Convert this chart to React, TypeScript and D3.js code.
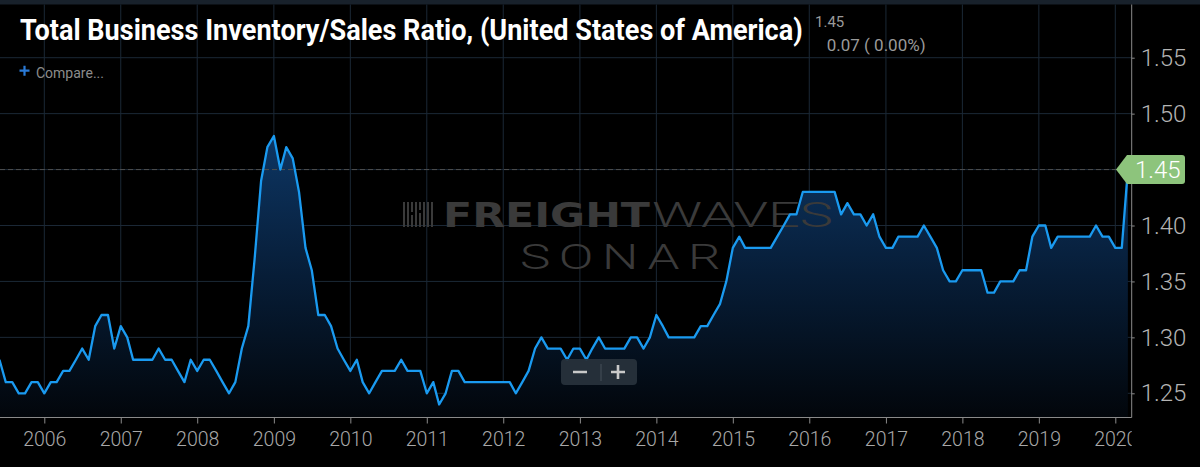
import * as d3 from "d3";
import { useEffect, useRef } from "react";

// monthly total business inventory / sales ratio, starting June 2005
const firstMonth = new Date(2005, 5, 1);
const ratio2005 = [1.28, 1.26, 1.26, 1.25, 1.25, 1.26, 1.26];
const ratio2006 = [1.25, 1.26, 1.26, 1.27, 1.27, 1.28, 1.29, 1.28, 1.31, 1.32, 1.32, 1.29];
const ratio2007 = [1.31, 1.30, 1.28, 1.28, 1.28, 1.28, 1.29, 1.28, 1.28, 1.27, 1.26, 1.28];
const ratio2008 = [1.27, 1.28, 1.28, 1.27, 1.26, 1.25, 1.26, 1.29, 1.31, 1.37, 1.44, 1.47];
const ratio2009 = [1.48, 1.45, 1.47, 1.46, 1.43, 1.38, 1.36, 1.32, 1.32, 1.31, 1.29, 1.28];
const ratio2010 = [1.27, 1.28, 1.26, 1.25, 1.26, 1.27, 1.27, 1.27, 1.28, 1.27, 1.27, 1.27];
const ratio2011 = [1.25, 1.26, 1.24, 1.25, 1.27, 1.27, 1.26, 1.26, 1.26, 1.26, 1.26, 1.26];
const ratio2012 = [1.26, 1.26, 1.25, 1.26, 1.27, 1.29, 1.30, 1.29, 1.29, 1.29, 1.28, 1.29];
const ratio2013 = [1.29, 1.28, 1.29, 1.30, 1.29, 1.29, 1.29, 1.29, 1.30, 1.30, 1.29, 1.30];
const ratio2014 = [1.32, 1.31, 1.30, 1.30, 1.30, 1.30, 1.30, 1.31, 1.31, 1.32, 1.33, 1.35];
const ratio2015 = [1.38, 1.39, 1.38, 1.38, 1.38, 1.38, 1.38, 1.39, 1.40, 1.41, 1.41, 1.43];
const ratio2016 = [1.43, 1.43, 1.43, 1.43, 1.43, 1.41, 1.42, 1.41, 1.41, 1.40, 1.41, 1.39];
const ratio2017 = [1.38, 1.38, 1.39, 1.39, 1.39, 1.39, 1.40, 1.39, 1.38, 1.36, 1.35, 1.35];
const ratio2018 = [1.36, 1.36, 1.36, 1.36, 1.34, 1.34, 1.35, 1.35, 1.35, 1.36, 1.36, 1.39];
const ratio2019 = [1.40, 1.40, 1.38, 1.39, 1.39, 1.39, 1.39, 1.39, 1.39, 1.40, 1.39, 1.39];
const ratio2020 = [1.38, 1.38, 1.45];

const yearTicks = [2006, 2007, 2008, 2009, 2010, 2011, 2012, 2013, 2014, 2015, 2016, 2017, 2018, 2019, 2020];
const valueTicks = [1.25, 1.30, 1.35, 1.40, 1.45, 1.50, 1.55];

const titleText = "Total Business Inventory/Sales Ratio, (United States of America)";
const lastText = "1.45";
const changeText = "0.07 ( 0.00%)";

function drawChart(div: HTMLDivElement) {
    const width = 1200;
    const height = 467;
    const plotTop = 4.5;
    const plotRight = 1131.7;
    const plotBottom = 417.5;

    d3.select(div).selectAll("*").remove();

    const values = [
        ...ratio2005, ...ratio2006, ...ratio2007, ...ratio2008, ...ratio2009, ...ratio2010,
        ...ratio2011, ...ratio2012, ...ratio2013, ...ratio2014, ...ratio2015, ...ratio2016,
        ...ratio2017, ...ratio2018, ...ratio2019, ...ratio2020,
    ];
    const data = values.map((v, i) => ({ date: d3.timeMonth.offset(firstMonth, i), value: v }));
    const last = data[data.length - 1];

    const x = d3.scaleTime()
        .domain([new Date(2006, 0, 1), new Date(2020, 0, 1)])
        .range([44.3, 1115.3]);
    const y = d3.scaleLinear()
        .domain([1.25, 1.55])
        .range([393.3, 57.7]);

    const svg = d3.select(div)
        .append("svg")
        .attr("width", width)
        .attr("height", height)
        .style("display", "block")
        .style("background", "#000")
        .style("font-family", "Roboto, sans-serif");

    const defs = svg.append("defs");
    defs.append("clipPath").attr("id", "plot-clip")
        .append("rect")
        .attr("x", 0).attr("y", plotTop)
        .attr("width", plotRight).attr("height", plotBottom - plotTop);
    defs.append("clipPath").attr("id", "label-clip")
        .append("rect")
        .attr("x", 0).attr("y", 0)
        .attr("width", plotRight).attr("height", height);
    const grad = defs.append("linearGradient")
        .attr("id", "area-fill")
        .attr("gradientUnits", "userSpaceOnUse")
        .attr("x1", 0).attr("x2", 0)
        .attr("y1", y(1.48)).attr("y2", plotBottom);
    grad.append("stop").attr("offset", "0%").attr("stop-color", "#0d3664");
    grad.append("stop").attr("offset", "50%").attr("stop-color", "#071d37");
    grad.append("stop").attr("offset", "100%").attr("stop-color", "#02060b");

    // top strip
    svg.append("rect")
        .attr("width", width).attr("height", plotTop)
        .attr("fill", "#18212b");

    // grid
    const grid = svg.append("g").attr("stroke", "#1b2836").attr("stroke-width", 1);
    grid.selectAll("line.v")
        .data(yearTicks)
        .enter()
        .append("line")
        .attr("x1", d => x(new Date(d, 0, 1))).attr("x2", d => x(new Date(d, 0, 1)))
        .attr("y1", plotTop).attr("y2", plotBottom);
    grid.selectAll("line.h")
        .data(valueTicks)
        .enter()
        .append("line")
        .attr("x1", 0).attr("x2", plotRight)
        .attr("y1", d => y(d)).attr("y2", d => y(d));

    // area
    const plot = svg.append("g").attr("clip-path", "url(#plot-clip)");
    plot.append("path")
        .datum(data)
        .attr("fill", "url(#area-fill)")
        .attr("d", d3.area<any>()
            .x(d => x(d.date))
            .y0(plotBottom)
            .y1(d => y(d.value)));

    // watermark
    const wm = svg.append("g").attr("fill", "#3a3a3a");
    const bars = [[0, 2, 25], [4, 2, 25], [8, 2, 10], [8, 2, 12, 13], [12, 2, 25], [16, 2, 8], [16, 2, 14, 11], [20, 2, 25], [24, 2, 25], [28, 2, 25]];
    bars.forEach(b => {
        wm.append("rect")
            .attr("x", 403 + b[0]).attr("y", 202 + (b[3] ?? 0))
            .attr("width", b[1]).attr("height", b[2]);
    });
    wm.append("text")
        .attr("x", 443).attr("y", 227)
        .attr("font-family", "'DejaVu Sans', sans-serif")
        .attr("font-weight", 700)
        .attr("font-size", 34)
        .attr("textLength", 207)
        .attr("lengthAdjust", "spacingAndGlyphs")
        .text("FREIGHT");
    wm.append("text")
        .attr("x", 652).attr("y", 227)
        .attr("font-weight", 300)
        .attr("font-size", 35)
        .attr("textLength", 181)
        .attr("lengthAdjust", "spacingAndGlyphs")
        .text("WAVES");
    // wide, thin letters: stretch the word to its width in the original
    const sonar = wm.append("text")
        .attr("font-weight", 300)
        .attr("font-size", 36)
        .attr("letter-spacing", 6)
        .text("SONAR");
    const sonarLen = (sonar.node() as SVGTextElement).getComputedTextLength() || 140;
    sonar.attr("transform", `translate(520,269) scale(${209 / sonarLen},1)`);

    // line + current value guide
    const lineLayer = svg.append("g").attr("clip-path", "url(#plot-clip)");
    lineLayer.append("line")
        .attr("x1", 0).attr("x2", plotRight)
        .attr("y1", y(last.value)).attr("y2", y(last.value))
        .attr("stroke", "#4e4e4e")
        .attr("stroke-dasharray", "5,3");
    lineLayer.append("path")
        .datum(data)
        .attr("fill", "none")
        .attr("stroke", "#1a9af0")
        .attr("stroke-width", 2.3)
        .attr("stroke-linejoin", "round")
        .attr("d", d3.line<any>()
            .x(d => x(d.date))
            .y(d => y(d.value)));

    // bottom axis
    const xAxis = svg.append("g")
        .attr("transform", `translate(0,${plotBottom})`)
        .attr("clip-path", "url(#label-clip)")
        .call(d3.axisBottom(x)
            .tickValues(yearTicks.map(d => new Date(d, 0, 1)))
            .tickFormat(d3.timeFormat("%Y") as any)
            .tickSize(6)
            .tickPadding(9));
    xAxis.select(".domain").remove();
    xAxis.selectAll("line").attr("stroke", "#8a8a8a");
    xAxis.selectAll("text")
        .attr("fill", "#a8a8a8")
        .attr("font-size", 19.5)
        .attr("font-weight", 300)
        .attr("font-family", "Roboto, sans-serif");
    svg.append("line")
        .attr("x1", 0).attr("x2", plotRight)
        .attr("y1", plotBottom).attr("y2", plotBottom)
        .attr("stroke", "#8a8a8a");

    // right axis (the current value label sits in the badge instead)
    const yAxis = svg.append("g")
        .attr("transform", `translate(${plotRight},0)`)
        .call(d3.axisRight(y)
            .tickValues(valueTicks.filter(v => Math.abs(v - last.value) > 0.02))
            .tickFormat(d3.format(".2f"))
            .tickSize(3)
            .tickPadding(6));
    yAxis.select(".domain").remove();
    yAxis.selectAll("line").attr("stroke", "#8a8a8a");
    yAxis.selectAll("text")
        .attr("fill", "#b4b4b4")
        .attr("font-size", 24)
        .attr("font-weight", 300)
        .attr("font-family", "Roboto, sans-serif");
    svg.append("line")
        .attr("x1", plotRight).attr("x2", plotRight)
        .attr("y1", plotTop).attr("y2", plotBottom)
        .attr("stroke", "#8a8a8a");

    // last value badge
    const by = y(last.value);
    svg.append("path")
        .attr("d", `M1116,${by} L1127,${by - 14.5} H1182 Q1185,${by - 14.5} 1185,${by - 11.5} V${by + 11.5} Q1185,${by + 14.5} 1182,${by + 14.5} H1127 Z`)
        .attr("fill", "#8dc47c");
    svg.append("text")
        .attr("x", 1135).attr("y", by)
        .attr("dy", "0.35em")
        .attr("fill", "#fff")
        .attr("font-size", 24)
        .attr("font-weight", 300)
        .text(d3.format(".2f")(last.value));

    // header: title squeezed to the width it has in the original
    const title = svg.append("text")
        .attr("fill", "#fff")
        .attr("font-weight", 700)
        .attr("font-size", 29)
        .text(titleText);
    const natural = (title.node() as SVGTextElement).getComputedTextLength() || 783;
    title.attr("transform", `translate(20,39.5) scale(${783 / natural},1)`);

    svg.append("text")
        .attr("x", 815).attr("y", 27)
        .attr("fill", "#9a9a9a")
        .attr("font-size", 15)
        .text(lastText);
    svg.append("text")
        .attr("x", 826.7).attr("y", 50.5)
        .attr("fill", "#9a9a9a")
        .attr("font-size", 17)
        .text(changeText);

    // compare
    svg.append("path")
        .attr("d", "M19.5,70.7 H29.5 M24.5,65.7 V75.7")
        .attr("stroke", "#2a7ad6")
        .attr("stroke-width", 2.2);
    svg.append("text")
        .attr("x", 36).attr("y", 77.5)
        .attr("fill", "#8c8c8c")
        .attr("font-size", 14)
        .text("Compare...");

    // zoom control
    const zc = svg.append("g");
    zc.append("rect")
        .attr("x", 561).attr("y", 359)
        .attr("width", 76).attr("height", 26)
        .attr("rx", 4)
        .attr("fill", "#27313b")
        .attr("opacity", 0.95);
    zc.append("path")
        .attr("d", "M573,372 H587 M611,372 H625 M618,365 V379")
        .attr("stroke", "#c9c9c9")
        .attr("stroke-width", 2.6);
    zc.append("line")
        .attr("x1", 601).attr("x2", 601)
        .attr("y1", 364).attr("y2", 381)
        .attr("stroke", "#46515b");
}

export default function App() {
    const divRef = useRef<HTMLDivElement>(null);
    useEffect(() => {
        if (divRef.current) drawChart(divRef.current);
    }, []);

    return (
        <div ref={divRef} style={{ position: "fixed", left: 0, top: 0, width: 1200, height: 467 }} />
    );
}
